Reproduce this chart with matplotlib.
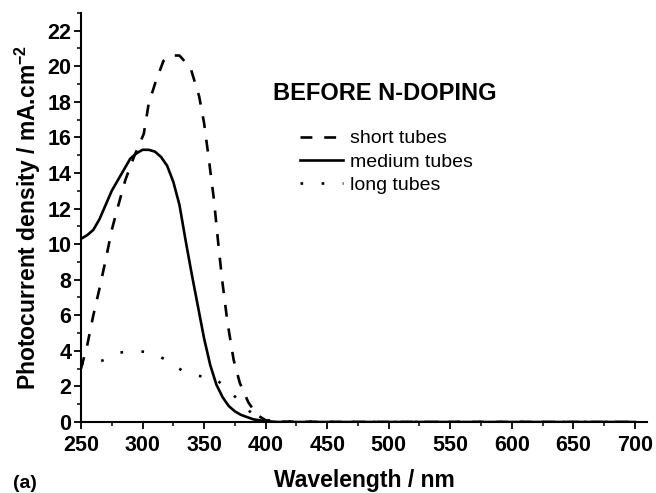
import numpy as np
import matplotlib
matplotlib.use("Agg")
import matplotlib.pyplot as plt
from matplotlib.ticker import MultipleLocator

plt.rcParams['font.family'] = ['Liberation Sans', 'DejaVu Sans']
plt.rcParams['mathtext.default'] = 'regular'

# === data ===
wl_short = [250, 255, 260, 265, 270, 275, 280, 286, 293, 301, 305, 311, 317, 323, 330, 339, 346, 350, 354, 358, 362, 365, 369, 374, 379, 386, 393, 400, 410, 450, 500, 550, 600, 650, 700]
short_tubes = [3.0, 4.3, 6.0, 7.5, 9.1, 10.8, 12.1, 13.6, 14.9, 16.2, 17.9, 19.2, 20.3, 20.6, 20.6, 19.9, 18.3, 16.8, 14.7, 12.5, 9.7, 7.8, 5.6, 3.5, 2.2, 1.1, 0.4, 0.1, 0.02, 0.0, 0.0, 0.0, 0.0, 0.0, 0.0]

wl_medium = [250, 255, 260, 265, 270, 275, 280, 285, 290, 295, 300, 305, 310, 315, 320, 325, 330, 335, 340, 345, 350, 355, 360, 365, 370, 375, 380, 390, 400, 410, 450, 500, 550, 600, 650, 700]
medium_tubes = [10.3, 10.5, 10.8, 11.4, 12.2, 13.0, 13.6, 14.2, 14.8, 15.1, 15.3, 15.3, 15.2, 14.9, 14.4, 13.5, 12.2, 10.2, 8.3, 6.5, 4.7, 3.2, 2.1, 1.4, 0.9, 0.6, 0.4, 0.15, 0.05, 0.0, 0.0, 0.0, 0.0, 0.0, 0.0, 0.0]

wl_long = [250, 258, 269, 281, 295, 307, 319, 332, 344, 358, 370, 381, 390, 400, 410, 450, 500, 550, 600, 650, 700]
long_tubes = [3.3, 3.2, 3.5, 3.9, 4.0, 3.9, 3.5, 2.9, 2.6, 2.5, 1.8, 1.0, 0.4, 0.1, 0.03, 0.0, 0.0, 0.0, 0.0, 0.0, 0.0]

fig = plt.figure(figsize=(6.56, 4.93), dpi=100)
ax = fig.add_axes([0.1235, 0.144, 0.863, 0.83])

ax.plot(wl_short, short_tubes, color='black', lw=1.9, linestyle=(0, (4.5, 4.5)), label='short tubes')
ax.plot(wl_medium, medium_tubes, color='black', lw=1.9, linestyle='-', label='medium tubes')
ax.plot(wl_long, long_tubes, color='black', lw=1.9, linestyle=(0, (1, 7)), label='long tubes')

ax.set_xlim(250, 710)
ax.set_ylim(0, 23)
ax.xaxis.set_major_locator(MultipleLocator(50))
ax.xaxis.set_minor_locator(MultipleLocator(25))
ax.yaxis.set_major_locator(MultipleLocator(2))
ax.yaxis.set_minor_locator(MultipleLocator(1))

for s in ['top', 'right']:
    ax.spines[s].set_visible(False)
for s in ['left', 'bottom']:
    ax.spines[s].set_linewidth(1.5)

ax.tick_params(which='major', direction='out', length=5, width=1.3, labelsize=15.5)
ax.tick_params(axis='x', which='major', pad=4)
ax.tick_params(axis='y', which='major', pad=2)
ax.tick_params(which='minor', direction='out', length=3, width=1.1)
for lab in ax.get_xticklabels() + ax.get_yticklabels():
    lab.set_fontweight('bold')

ax.set_xlabel('Wavelength / nm', fontsize=16.5, fontweight='bold', labelpad=10)
ax.set_ylabel('Photocurrent density / mA.cm$^{-2}$', fontsize=16.5, fontweight='bold', labelpad=3)

ax.text(0.34, 0.803, 'BEFORE N-DOPING', transform=ax.transAxes, fontsize=17, fontweight='bold',
        va='center')
ax.legend(loc='upper left', bbox_to_anchor=(0.37, 0.738), frameon=False, fontsize=14,
          handlelength=2.2, handletextpad=0.35, labelspacing=0.3, borderpad=0)

fig.text(0.02, 0.01, '(a)', fontsize=14, fontweight='bold')

fig.savefig('out.png', dpi=100)
